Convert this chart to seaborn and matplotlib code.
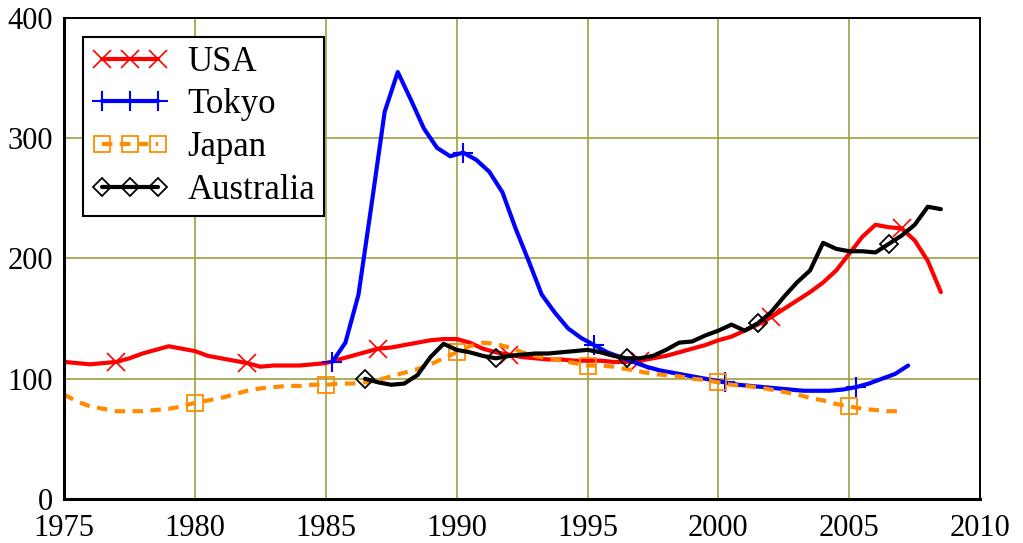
import numpy as np
import matplotlib
matplotlib.use("Agg")
import matplotlib.pyplot as plt
import seaborn as sns

# half-year steps
usa_years = np.arange(1975.0, 2008.51, 0.5)
usa = [114, 113, 112, 113, 114, 117, 121, 124, 127, 125, 123, 119, 117, 115,
       113, 110, 111, 111, 111, 112, 113, 116, 119, 122, 125, 126, 128, 130,
       132, 133, 133, 130, 125, 122, 120, 118, 117, 116, 116, 115, 115, 115,
       114, 114, 115, 117, 119, 122, 125, 128, 132, 135, 140, 145, 151, 158,
       165, 172, 180, 190, 204, 218, 228, 226, 225, 215, 198, 172]

tokyo_years = np.arange(1985.25, 2007.26, 0.5)
tokyo = [114, 130, 170, 245, 322, 355, 332, 308, 292, 285, 288, 282, 272, 255,
         225, 198, 170, 155, 142, 134, 128, 122, 118, 114, 110, 107, 105, 103,
         101, 99, 97, 95, 94, 93, 92, 91, 90, 90, 90, 91, 93, 96, 100, 104, 111]

japan_years = np.arange(1975.0, 2007.01, 0.5)
japan = [87, 81, 77, 75, 73, 73, 73, 74, 75, 77, 80, 82, 84, 87, 90, 92, 93,
         94, 94, 95, 95, 96, 96, 97, 99, 102, 105, 108, 112, 117, 122, 127,
         130, 129, 126, 122, 119, 117, 115, 113, 111, 111, 110, 108, 106, 104,
         103, 102, 100, 99, 97, 95, 94, 93, 91, 89, 87, 84, 82, 79, 77, 75, 74,
         73, 73]

aus_years = np.arange(1986.5, 2008.51, 0.5)
australia = [100, 97, 95, 96, 103, 118, 129, 124, 122, 119, 117, 119, 120, 121,
             121, 122, 123, 124, 122, 119, 117, 117, 119, 124, 130, 131, 136,
             140, 145, 140, 146, 155, 168, 180, 190, 213, 208, 206, 206, 205,
             212, 219, 228, 243, 241]

x_ticks = [1975, 1980, 1985, 1990, 1995, 2000, 2005, 2010]
y_ticks = [0, 100, 200, 300, 400]

sns.set_theme(style="white")
plt.rcParams['font.family'] = ['Liberation Serif', 'DejaVu Serif']
plt.rcParams['text.color'] = 'black'

fig = plt.figure(figsize=(10.23, 5.43), dpi=100)
ax = fig.add_axes([0.0626, 0.081, 0.8955, 0.886])

lw = 3.0
sns.lineplot(x=usa_years, y=usa, ax=ax, color="#ff0000", lw=lw, label="USA",
             marker="x", markersize=13, markeredgecolor="#ff0000",
             markeredgewidth=1.2, markevery=(4, 10))
sns.lineplot(x=tokyo_years, y=tokyo, ax=ax, color="#0000ff", lw=lw, label="Tokyo",
             marker="+", markersize=15, markeredgecolor="#0000ff",
             markeredgewidth=1.5, markevery=(0, 10))
sns.lineplot(x=japan_years, y=japan, ax=ax, color="#ff8c00", lw=3.0, label="Japan",
             linestyle=(0, (2.5, 1.8)), marker="s", markersize=11,
             markerfacecolor="none", markeredgecolor="#ff8c00",
             markeredgewidth=1.3, markevery=(10, 10))
sns.lineplot(x=aus_years, y=australia, ax=ax, color="black", lw=lw, label="Australia",
             marker="D", markersize=9, markerfacecolor="none",
             markeredgecolor="black", markeredgewidth=1.3, markevery=(0, 10))

ax.set_xlim(1975, 2010)
ax.set_ylim(0, 400)
ax.set_xticks(x_ticks)
ax.set_yticks(y_ticks)
ax.grid(True, color="#a0a040", lw=1.2)
ax.set_axisbelow(True)
ax.tick_params(length=0, labelsize=22, colors="black")
ax.tick_params(axis="x", pad=11)
ax.tick_params(axis="y", pad=8)
ax.set_xlabel("")
ax.set_ylabel("")
for side in ["left", "bottom"]:
    ax.spines[side].set_linewidth(2.2)
    ax.spines[side].set_color("black")
for side in ["top", "right"]:
    ax.spines[side].set_linewidth(1.4)
    ax.spines[side].set_color("black")

leg = ax.legend(loc="upper left", fontsize=25, numpoints=3, handlelength=2.2,
                frameon=True, fancybox=False, borderpad=0.25, labelspacing=0.28,
                handletextpad=0.55, borderaxespad=0.55)
leg.get_frame().set_edgecolor("black")
leg.get_frame().set_linewidth(1.5)
leg.get_frame().set_alpha(1)
for t in leg.get_texts():
    t.set_color("black")

fig.savefig("out.png", dpi=100)
